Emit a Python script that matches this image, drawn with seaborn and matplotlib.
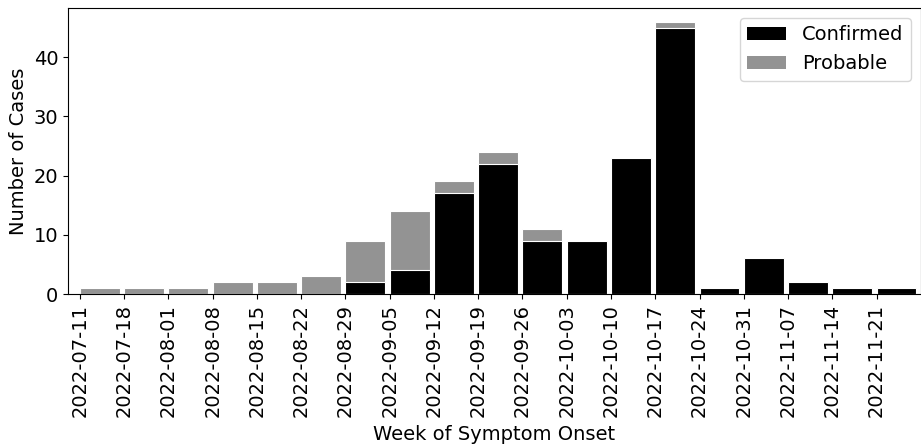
import matplotlib
matplotlib.use("Agg")
import matplotlib.pyplot as plt
import numpy as np
import pandas as pd
import seaborn as sns
from matplotlib.patches import Patch

# weekly case counts
weeks = ["2022-07-11", "2022-07-18", "2022-08-01", "2022-08-08", "2022-08-15",
         "2022-08-22", "2022-08-29", "2022-09-05", "2022-09-12", "2022-09-19",
         "2022-09-26", "2022-10-03", "2022-10-10", "2022-10-17", "2022-10-24",
         "2022-10-31", "2022-11-07", "2022-11-14", "2022-11-21"]
confirmed = [0, 0, 0, 0, 0, 0, 2, 4, 17, 22, 9, 9, 23, 45, 1, 6, 2, 1, 1]
probable = [1, 1, 1, 2, 2, 3, 7, 10, 2, 2, 2, 0, 0, 1, 0, 0, 0, 0, 0]

df = pd.DataFrame({"week": weeks, "Confirmed": confirmed, "Probable": probable})
df["total"] = df["Confirmed"] + df["Probable"]

# plain matplotlib look: black text and ticks
plt.rcParams["font.family"] = ["DejaVu Sans"]

fig = plt.figure(figsize=(9.21, 4.46), dpi=100)
ax = fig.add_axes([0.0738, 0.3408, 0.926, 0.6413])

grey = "#939393"
sns.barplot(data=df, x="week", y="total", color=grey, width=0.9,
            edgecolor="white", linewidth=0.8, saturation=1, ax=ax)
sns.barplot(data=df, x="week", y="Confirmed", color="black", width=0.9,
            edgecolor="white", linewidth=0.8, saturation=1, ax=ax)

# ticks sit at the left edge of each bar
pos = np.arange(len(weeks)) - 0.45
ax.set_xticks(pos)
ax.set_xticklabels(weeks, rotation=90, fontsize=14)
ax.tick_params(axis="y", labelsize=14)
ax.set_xlim(-0.72, 18.55)
ax.set_ylim(0, 48.3)
ax.set_yticks([0, 10, 20, 30, 40])

ax.set_xlabel("Week of Symptom Onset", fontsize=14, labelpad=6)
ax.set_ylabel("Number of Cases", fontsize=14)

handles = [Patch(facecolor="black", label="Confirmed"),
           Patch(facecolor=grey, label="Probable")]
ax.legend(handles=handles, loc="upper right", fontsize=14, frameon=True)

fig.savefig("out.png", dpi=100)
